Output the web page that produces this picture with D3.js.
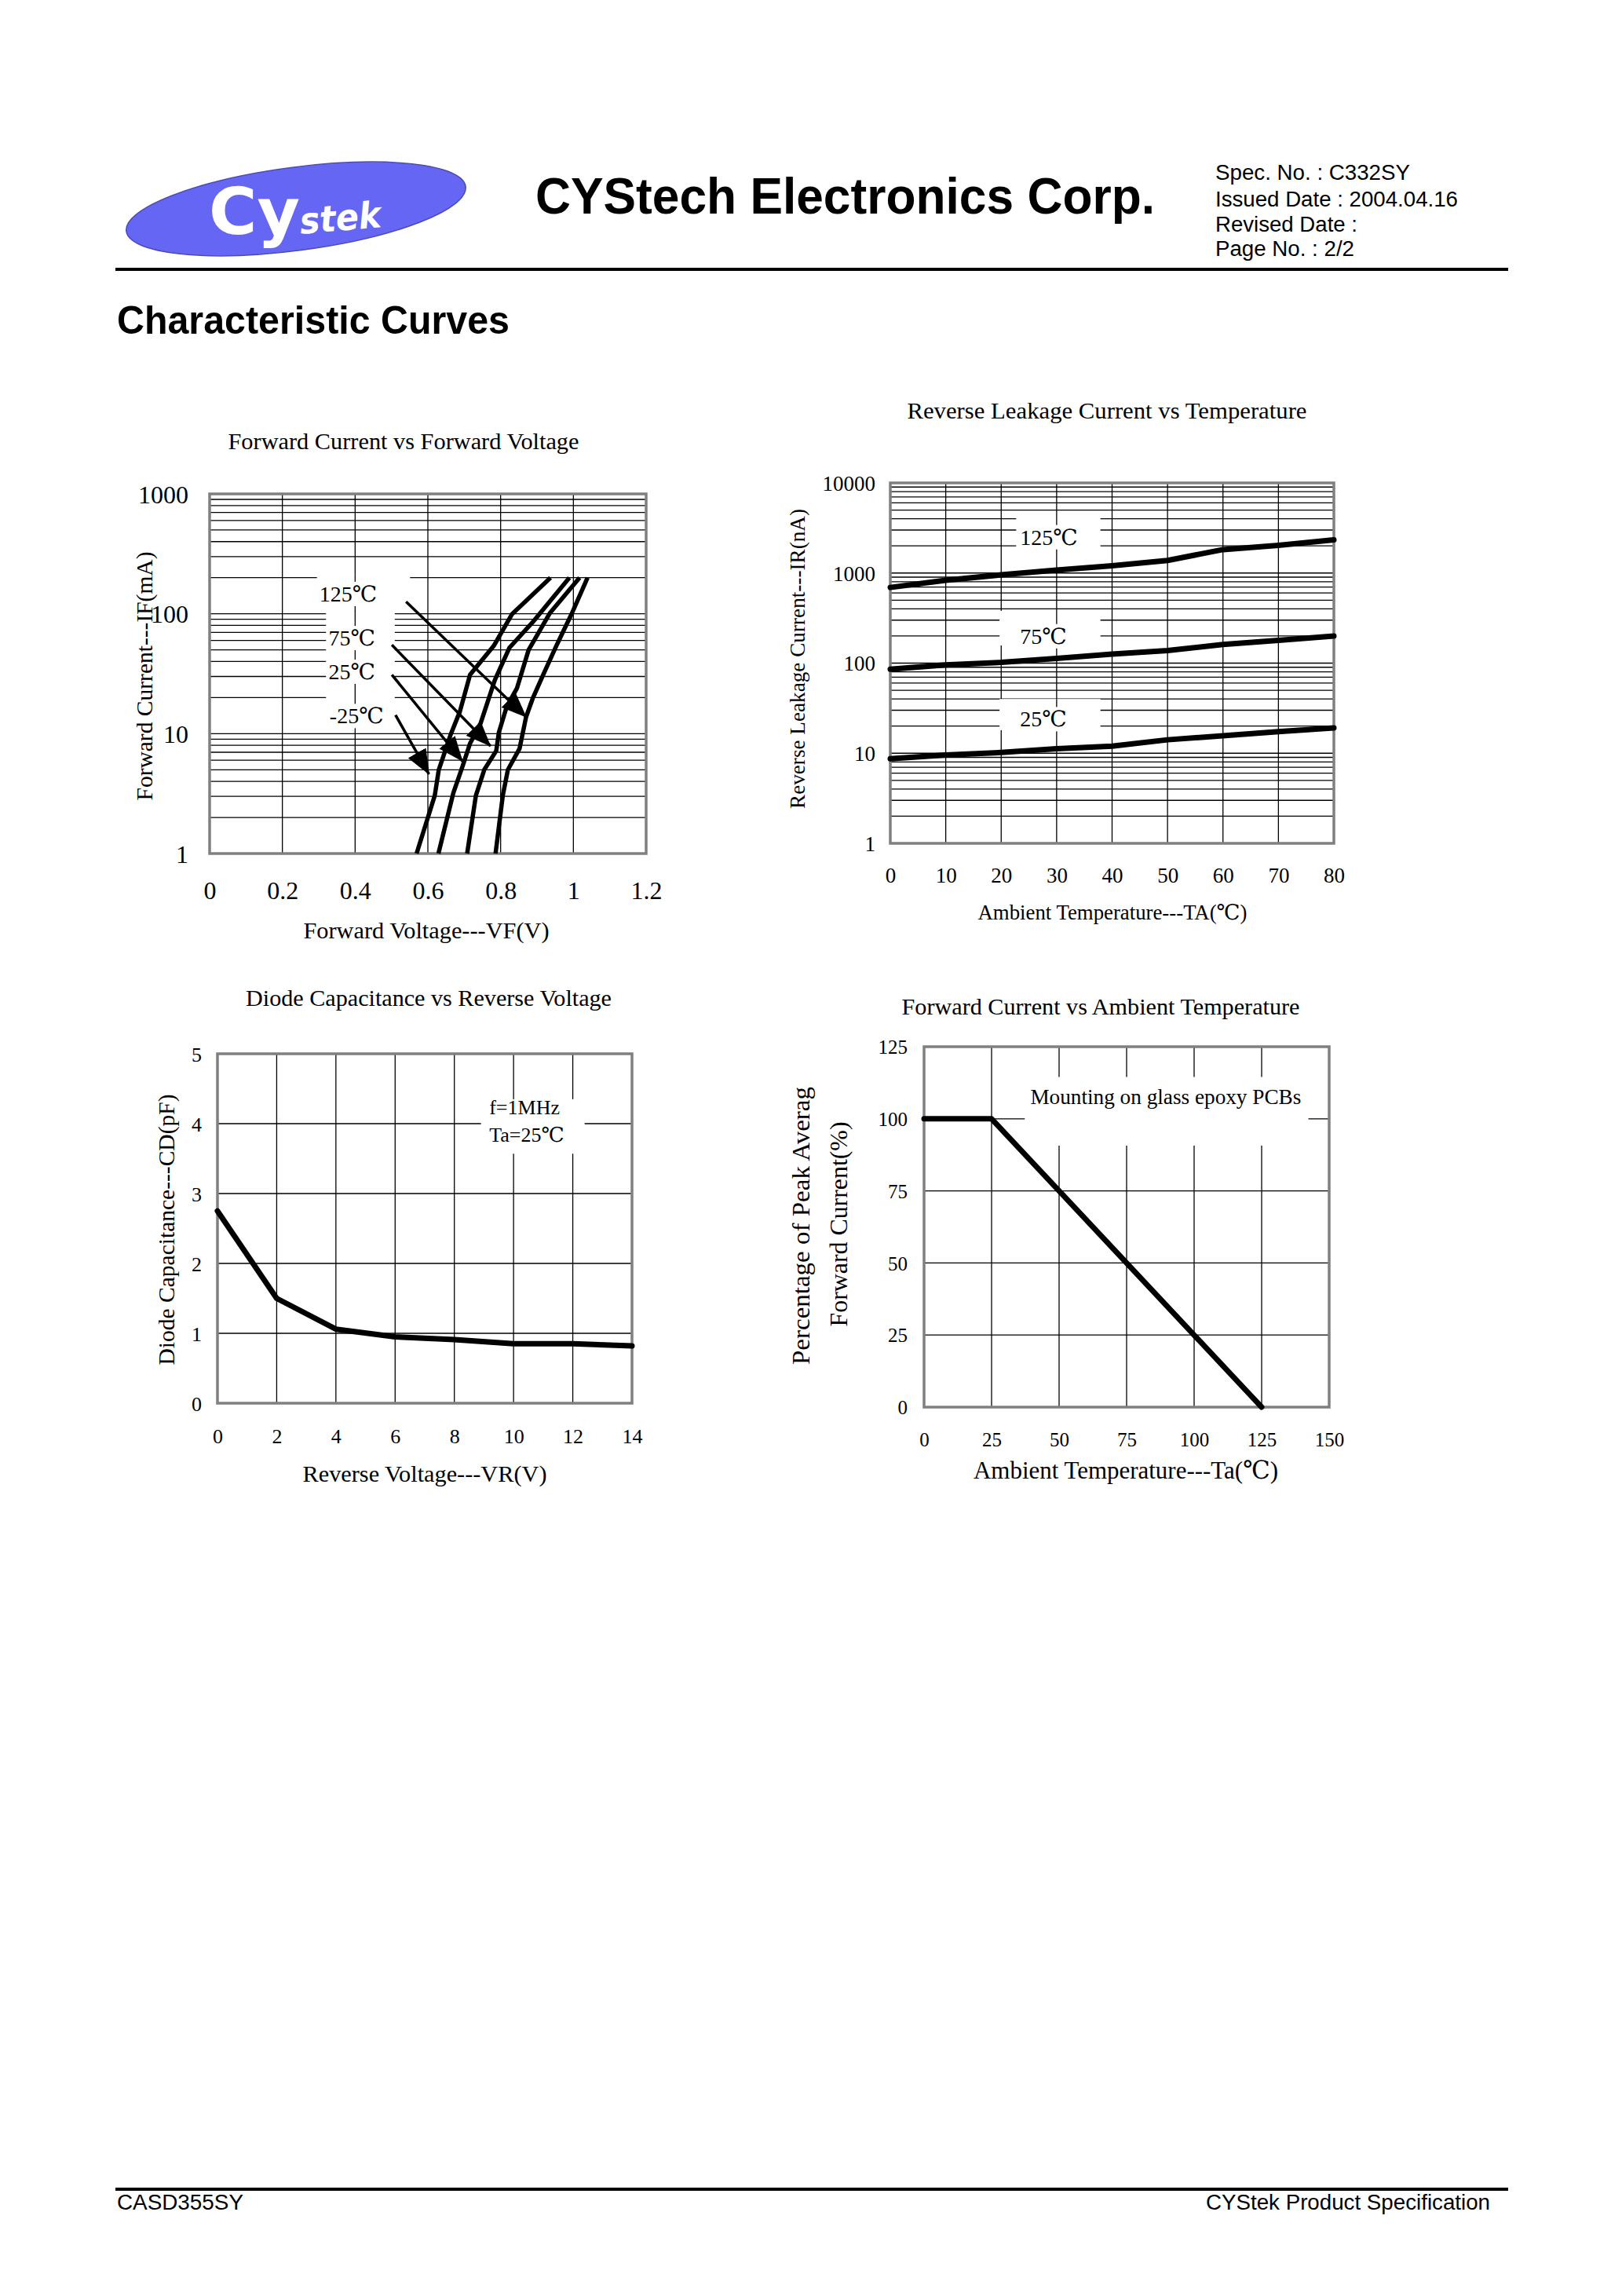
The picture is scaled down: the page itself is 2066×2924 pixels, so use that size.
<!DOCTYPE html>
<html>
<head>
<meta charset="utf-8">
<script src="https://cdn.jsdelivr.net/npm/d3@7"></script>
<style>
  body { margin: 0; background: #fff; }
  .serif { font-family: "Liberation Serif", "DejaVu Serif", "Noto Sans CJK SC", serif; }
  .sans { font-family: "Liberation Sans", Arial, sans-serif; }
</style>
</head>
<body>
<div id="page"></div>
<script>
// ---------- data ----------
// Forward current vs forward voltage: [VF (V), IF (mA)]
const fvLabels = ["125℃", "75℃", "25℃", "-25℃"];
const fvCurveA = [[0.569, 1], [0.619, 3.05], [0.630, 5.0], [0.662, 9.7], [0.688, 15.3], [0.716, 31], [0.781, 54], [0.831, 99], [0.937, 200]];
const fvCurveB = [[0.629, 1], [0.670, 3.2], [0.695, 5.3], [0.716, 8.3], [0.745, 12.2], [0.784, 28], [0.824, 52], [0.888, 85], [0.989, 200]];
const fvCurveC = [[0.708, 1], [0.732, 3.05], [0.755, 5.0], [0.788, 7.2], [0.795, 10.2], [0.817, 16.9], [0.845, 24], [0.877, 50], [0.935, 101], [1.017, 200]];
const fvCurveD = [[0.786, 1], [0.806, 3.05], [0.820, 5.0], [0.852, 7.5], [0.870, 13.8], [0.888, 19.6], [0.917, 31], [0.953, 54], [0.996, 101], [1.039, 200]];
const vfTicks = [0, 0.2, 0.4, 0.6, 0.8, 1, 1.2];
const ifTicks = [1, 10, 100, 1000];

// Reverse leakage current vs temperature
const irTemps = [0, 10, 20, 30, 40, 50, 60, 70, 80];
const ir125 = [692, 832, 955, 1076, 1202, 1380, 1820, 2032, 2333];
const ir75 = [85.5, 95.5, 102, 113, 126, 138, 161, 179, 200];
const ir25 = [8.7, 9.55, 10.2, 11.2, 12.0, 14.1, 15.6, 17.4, 19.1];
const irLabels = ["125℃", "75℃", "25℃"];
const taTicks = [0, 10, 20, 30, 40, 50, 60, 70, 80];
const irTicks = [1, 10, 100, 1000, 10000];

// Diode capacitance vs reverse voltage
const vrVolts = [0, 2, 4, 6, 8, 10, 12, 14];
const cdValues = [2.75, 1.5, 1.06, 0.95, 0.91, 0.85, 0.85, 0.82];
const cdTicks = [0, 1, 2, 3, 4, 5];

// Forward current derating vs ambient temperature
const derateTemps = [0, 25, 125];
const deratePct = [100, 100, 0];
const derateTempTicks = [0, 25, 50, 75, 100, 125, 150];
const deratePctTicks = [0, 25, 50, 75, 100, 125];

// ---------- page ----------
let width = 2066;
let height = 2924;

let svg = d3.select("#page")
  .append("svg")
  .attr("width", width)
  .attr("height", height)
  .attr("viewBox", [0, 0, width, height]);

svg.append("rect").attr("width", width).attr("height", height).attr("fill", "#fff");

let defs = svg.append("defs");
defs.append("marker")
  .attr("id", "arrowhead")
  .attr("viewBox", "0 0 32 26")
  .attr("refX", 31)
  .attr("refY", 13)
  .attr("markerWidth", 32)
  .attr("markerHeight", 26)
  .attr("markerUnits", "userSpaceOnUse")
  .attr("orient", "auto")
  .append("path")
  .attr("d", "M0,0 L32,13 L0,26 Z")
  .attr("fill", "#000");

function addText(parent, x, y, str, size, cls, opts = {}) {
  let t = parent.append("text")
    .attr("class", cls)
    .attr("x", x)
    .attr("y", y)
    .attr("font-size", size)
    .attr("fill", "#000")
    .text(str);
  if (opts.anchor) t.attr("text-anchor", opts.anchor);
  if (opts.weight) t.attr("font-weight", opts.weight);
  if (opts.style) t.attr("font-style", opts.style);
  if (opts.length) t.attr("textLength", opts.length).attr("lengthAdjust", "spacingAndGlyphs");
  if (opts.rotate) t.attr("transform", `rotate(${opts.rotate},${x},${y})`);
  if (opts.dy) t.attr("dy", opts.dy);
  return t;
}

// ---------- header ----------
let header = svg.append("g");
header.append("ellipse")
  .attr("cx", 377).attr("cy", 266)
  .attr("rx", 218).attr("ry", 53)
  .attr("transform", "rotate(-7.5,377,266)")
  .attr("fill", "#6666f4")
  .attr("stroke", "#4b4bb5")
  .attr("stroke-width", 1.5);
header.append("text")
  .attr("x", 266).attr("y", 298)
  .attr("font-family", "'DejaVu Sans', sans-serif")
  .attr("font-weight", "bold")
  .attr("font-size", 82)
  .attr("fill", "#fff")
  .attr("textLength", 116)
  .attr("lengthAdjust", "spacingAndGlyphs")
  .text("Cy");
header.append("text")
  .attr("x", 383).attr("y", 298)
  .attr("font-family", "'DejaVu Sans', sans-serif")
  .attr("font-weight", "bold")
  .attr("font-style", "italic")
  .attr("font-size", 46)
  .attr("fill", "#fff")
  .attr("textLength", 104)
  .attr("lengthAdjust", "spacingAndGlyphs")
  .attr("transform", "rotate(-5,383,298)")
  .text("stek");

addText(header, 682, 272, "CYStech Electronics Corp.", 64, "sans", { weight: "bold", length: 789 });

let specLines = [
  ["Spec. No. : C332SY", 229, 248],
  ["Issued Date : 2004.04.16", 263, 309],
  ["Revised Date :", 295, 181],
  ["Page No. : 2/2", 326, 177]
];
specLines.forEach(([s, yy, w]) => addText(header, 1548, yy, s, 27, "sans", { length: w }));

header.append("line")
  .attr("x1", 147).attr("x2", 1921)
  .attr("y1", 343).attr("y2", 343)
  .attr("stroke", "#000").attr("stroke-width", 4);

addText(svg, 149, 425, "Characteristic Curves", 50, "sans", { weight: "bold", length: 500 });

// footer
svg.append("line")
  .attr("x1", 147).attr("x2", 1921)
  .attr("y1", 2788).attr("y2", 2788)
  .attr("stroke", "#000").attr("stroke-width", 4);
addText(svg, 149, 2814, "CASD355SY", 27, "sans", { length: 161 });
addText(svg, 1898, 2814, "CYStek Product Specification", 27, "sans", { anchor: "end", length: 362 });

// ---------- chart helpers ----------
function drawGrid(g, x, y, xGrid, yGrid) {
  let [x0, x1] = x.range();
  let [yb, yt] = y.range();
  g.append("g").selectAll("line").data(xGrid).join("line")
    .attr("x1", d => x(d)).attr("x2", d => x(d))
    .attr("y1", yt).attr("y2", yb)
    .attr("stroke", "#000").attr("stroke-width", 1.3);
  g.append("g").selectAll("line").data(yGrid).join("line")
    .attr("x1", x0).attr("x2", x1)
    .attr("y1", d => y(d)).attr("y2", d => y(d))
    .attr("stroke", "#000").attr("stroke-width", 1.3);
}

function drawFrame(g, x, y) {
  let [x0, x1] = x.range();
  let [yb, yt] = y.range();
  g.append("rect")
    .attr("x", x0).attr("y", yt)
    .attr("width", x1 - x0).attr("height", yb - yt)
    .attr("fill", "none")
    .attr("stroke", "#808080")
    .attr("stroke-width", 3.5);
}

// white box hiding the grid, optionally with one vertical grid line drawn back
function clearRegion(g, x, y, r, keepX) {
  let xa = x(r.x0), xb = x(r.x1), ya = y(r.y1), yb = y(r.y0);
  g.append("rect")
    .attr("x", xa).attr("y", ya)
    .attr("width", xb - xa).attr("height", yb - ya)
    .attr("fill", "#fff");
  if (keepX !== undefined) {
    g.append("line")
      .attr("x1", x(keepX)).attr("x2", x(keepX))
      .attr("y1", ya).attr("y2", yb)
      .attr("stroke", "#000").attr("stroke-width", 1.3);
  }
}

function labelWithBg(g, x, y, str, size, anchor) {
  let t = addText(g, x, y, str, size, "serif", { anchor: anchor, dy: "0.35em" });
  let b = t.node().getBBox();
  g.insert("rect", () => t.node())
    .attr("x", b.x - 2).attr("y", b.y)
    .attr("width", b.width + 4).attr("height", b.height)
    .attr("fill", "#fff");
  return t;
}

function drawAxes(g, x, y, xTicks, yTicks, size, xOff, yOff) {
  g.append("g")
    .attr("transform", `translate(0,${y.range()[0]})`)
    .call(d3.axisBottom(x).tickValues(xTicks).tickFormat(d => String(d)).tickSize(0))
    .call(a => a.select(".domain").remove())
    .selectAll("text")
    .attr("class", "serif")
    .attr("y", xOff)
    .attr("dy", "0.35em")
    .style("font-size", size + "px")
    .attr("fill", "#000");
  g.append("g")
    .attr("transform", `translate(${x.range()[0]},0)`)
    .call(d3.axisLeft(y).tickValues(yTicks).tickFormat(d => String(d)).tickSize(0))
    .call(a => a.select(".domain").remove())
    .selectAll("text")
    .attr("class", "serif")
    .attr("x", -yOff)
    .attr("dy", "0.35em")
    .style("font-size", size + "px")
    .attr("fill", "#000");
}

// ---------- chart 1: forward current vs forward voltage ----------
{
  let g = svg.append("g");
  let x = d3.scaleLinear().domain([0, 1.2]).range([267, 823]);
  let y = d3.scaleLog().domain([1, 1000]).range([1087, 629]);

  drawGrid(g, x, y, vfTicks.slice(1, -1), y.ticks().filter(d => d > 1 && d < 1000));
  clearRegion(g, x, y, { x0: 0.295, x1: 0.551, y0: 105, y1: 212 });
  clearRegion(g, x, y, { x0: 0.320, x1: 0.509, y0: 17.5, y1: 106 }, 0.4);
  g.append("line")
    .attr("x1", x(0.4)).attr("x2", x(0.4))
    .attr("y1", y(212)).attr("y2", y(105))
    .attr("stroke", "#000").attr("stroke-width", 1.3);
  drawFrame(g, x, y);

  let line = d3.line().x(d => x(d[0])).y(d => y(d[1]));
  g.selectAll(".vf-curve")
    .data([fvCurveA, fvCurveB, fvCurveC, fvCurveD])
    .join("path")
    .attr("d", line)
    .attr("fill", "none")
    .attr("stroke", "#000")
    .attr("stroke-width", 5.5)
    .attr("stroke-linejoin", "round");

  let fvLabelPos = [[0.381, 147], [0.391, 63], [0.391, 33], [0.404, 14.1]];
  fvLabels.forEach((s, i) => labelWithBg(g, x(fvLabelPos[i][0]), y(fvLabelPos[i][1]), s, 28, "middle"));

  let fvArrows = [
    [[0.540, 126], [0.870, 13.8]],
    [[0.501, 55], [0.772, 7.9]],
    [[0.501, 31], [0.695, 5.9]],
    [[0.511, 14.3], [0.603, 4.6]]
  ];
  g.selectAll(".fv-arrow")
    .data(fvArrows)
    .join("line")
    .attr("x1", d => x(d[0][0])).attr("y1", d => y(d[0][1]))
    .attr("x2", d => x(d[1][0])).attr("y2", d => y(d[1][1]))
    .attr("stroke", "#000")
    .attr("stroke-width", 3.5)
    .attr("marker-end", "url(#arrowhead)");

  drawAxes(g, x, y, vfTicks, ifTicks, 32, 47, 27);
  addText(g, 514, 561, "Forward Current vs Forward Voltage", 30, "serif", { anchor: "middle", dy: "0.35em", length: 447 });
  addText(g, 543, 1184, "Forward Voltage---VF(V)", 30, "serif", { anchor: "middle", dy: "0.35em", length: 313 });
  addText(g, 183, 861, "Forward Current---IF(mA)", 30, "serif", { anchor: "middle", dy: "0.35em", length: 317, rotate: -90 });
}

// ---------- chart 2: reverse leakage current vs temperature ----------
{
  let g = svg.append("g");
  let x = d3.scaleLinear().domain([0, 80]).range([1134, 1699]);
  let y = d3.scaleLog().domain([1, 10000]).range([1074, 615]);

  drawGrid(g, x, y, taTicks.slice(1, -1), y.ticks().filter(d => d > 1 && d < 10000));
  clearRegion(g, x, y, { x0: 22.7, x1: 37.9, y0: 1854, y1: 4477 }, 30);
  clearRegion(g, x, y, { x0: 19.7, x1: 37.9, y0: 157, y1: 380 }, 30);
  clearRegion(g, x, y, { x0: 19.7, x1: 37.9, y0: 18, y1: 40 }, 30);
  drawFrame(g, x, y);

  let line = d3.line().x((d, i) => x(irTemps[i])).y(d => y(d));
  g.selectAll(".ir-curve")
    .data([ir125, ir75, ir25])
    .join("path")
    .attr("d", line)
    .attr("fill", "none")
    .attr("stroke", "#000")
    .attr("stroke-width", 7)
    .attr("stroke-linecap", "round")
    .attr("stroke-linejoin", "round");

  let irLabelPos = [[28.6, 2512], [27.6, 200], [27.6, 24]];
  irLabels.forEach((s, i) => labelWithBg(g, x(irLabelPos[i][0]), y(irLabelPos[i][1]), s, 28, "middle"));

  drawAxes(g, x, y, taTicks, irTicks, 27, 41, 19);
  addText(g, 1410, 522, "Reverse Leakage Current vs Temperature", 30, "serif", { anchor: "middle", dy: "0.35em", length: 509 });
  addText(g, 1417, 1162, "Ambient Temperature---TA(℃)", 27, "serif", { anchor: "middle", dy: "0.35em", length: 343 });
  addText(g, 1016, 839, "Reverse Leakage Current---IR(nA)", 27, "serif", { anchor: "middle", dy: "0.35em", length: 382, rotate: -90 });
}

// ---------- chart 3: diode capacitance vs reverse voltage ----------
{
  let g = svg.append("g");
  let x = d3.scaleLinear().domain([0, 14]).range([277, 805]);
  let y = d3.scaleLinear().domain([0, 5]).range([1787, 1342]);

  drawGrid(g, x, y, vrVolts.slice(1, -1), cdTicks.slice(1, -1));
  clearRegion(g, x, y, { x0: 8.9, x1: 12.4, y0: 3.57, y1: 4.35 });
  drawFrame(g, x, y);

  g.append("path")
    .datum(cdValues)
    .attr("d", d3.line().x((d, i) => x(vrVolts[i])).y(d => y(d)))
    .attr("fill", "none")
    .attr("stroke", "#000")
    .attr("stroke-width", 7)
    .attr("stroke-linecap", "round")
    .attr("stroke-linejoin", "round");

  addText(g, x(9.18), y(4.24), "f=1MHz", 26, "serif", { dy: "0.35em" });
  addText(g, x(9.18), y(3.84), "Ta=25℃", 26, "serif", { dy: "0.35em" });

  drawAxes(g, x, y, vrVolts, cdTicks, 26, 42, 20);
  addText(g, 546, 1270, "Diode Capacitance vs Reverse Voltage", 30, "serif", { anchor: "middle", dy: "0.35em", length: 466 });
  addText(g, 541, 1876, "Reverse Voltage---VR(V)", 30, "serif", { anchor: "middle", dy: "0.35em", length: 311 });
  addText(g, 211, 1566, "Diode Capacitance---CD(pF)", 30, "serif", { anchor: "middle", dy: "0.35em", length: 345, rotate: -90 });
}

// ---------- chart 4: forward current derating ----------
{
  let g = svg.append("g");
  let x = d3.scaleLinear().domain([0, 150]).range([1177, 1693]);
  let y = d3.scaleLinear().domain([0, 125]).range([1792, 1333]);

  drawGrid(g, x, y, derateTempTicks.slice(1, -1), deratePctTicks.slice(1, -1));
  clearRegion(g, x, y, { x0: 37.3, x1: 142.3, y0: 90.7, y1: 114.5 });
  drawFrame(g, x, y);

  g.append("path")
    .datum(deratePct)
    .attr("d", d3.line().x((d, i) => x(derateTemps[i])).y(d => y(d)))
    .attr("fill", "none")
    .attr("stroke", "#000")
    .attr("stroke-width", 7)
    .attr("stroke-linecap", "round")
    .attr("stroke-linejoin", "round");

  addText(g, x(89.5), y(107.6), "Mounting on glass epoxy PCBs", 27, "serif", { anchor: "middle", dy: "0.35em", length: 345 });

  drawAxes(g, x, y, derateTempTicks, deratePctTicks, 25, 41, 21);
  addText(g, 1402, 1281, "Forward Current vs Ambient Temperature", 30, "serif", { anchor: "middle", dy: "0.35em", length: 507 });
  addText(g, 1434, 1872, "Ambient Temperature---Ta(℃)", 32, "serif", { anchor: "middle", dy: "0.35em", length: 388 });
  addText(g, 1020, 1738, "Percentage of Peak Averag", 32, "serif", { dy: "0.35em", length: 354, rotate: -90 });
  addText(g, 1068, 1559, "Forward Current(%)", 32, "serif", { anchor: "middle", dy: "0.35em", length: 261, rotate: -90 });
}
</script>
</body>
</html>
